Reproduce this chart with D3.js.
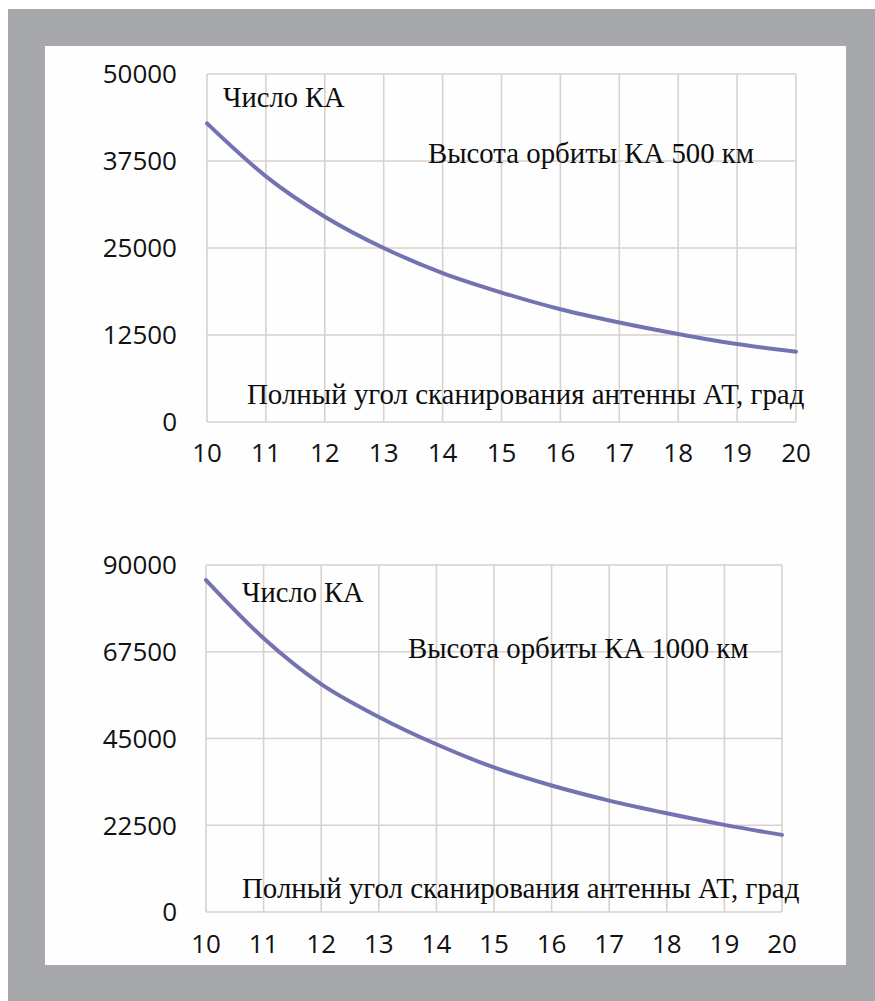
<!DOCTYPE html>
<html>
<head>
<meta charset="utf-8">
<script src="https://cdn.jsdelivr.net/npm/d3@7"></script>
<style>
  html, body { margin: 0; padding: 0; background: #fff; }
  svg { display: block; }
</style>
</head>
<body>
<svg id="chart" width="875" height="1001"></svg>
<script>
// ---- data ----
const angles = [10, 11, 12, 13, 14, 15, 16, 17, 18, 19, 20];
const count500 = [42900, 35300, 29500, 25000, 21400, 18600, 16200, 14300, 12650, 11200, 10100];
const count1000 = [86100, 71000, 59100, 50600, 43500, 37500, 32800, 28900, 25600, 22600, 20000];
const yTicks500 = [0, 12500, 25000, 37500, 50000];
const yTicks1000 = [0, 22500, 45000, 67500, 90000];
const yLabelText = "Число КА";
const xLabelText = "Полный угол сканирования антенны АТ, град";
const title500 = "Высота орбиты КА 500 км";
const title1000 = "Высота орбиты КА 1000 км";

// ---- layout ----
const svg = d3.select("#chart");
svg.append("rect").attr("x", 0).attr("y", 0).attr("width", 875).attr("height", 1001).attr("fill", "#ffffff");
svg.append("rect").attr("x", 8).attr("y", 9).attr("width", 867).attr("height", 992).attr("fill", "#a7a8ab");
svg.append("rect").attr("x", 45).attr("y", 46).attr("width", 801).attr("height", 919).attr("fill", "#fefefe");

const GRID = "#d9d1cd";
const LINE = "#7473b2";
const SERIF = "'Liberation Serif', 'Times New Roman', serif";
const SANS = "'Open Sans', sans-serif";

function drawChart(cfg) {
  const x = d3.scaleLinear().domain([10, 20]).range([cfg.x0, cfg.x1]);
  const y = d3.scaleLinear().domain([0, cfg.ymax]).range([cfg.y0, cfg.y1]);
  const g = svg.append("g");

  // vertical grid
  g.append("g").selectAll("line").data(angles).join("line")
    .attr("x1", d => x(d)).attr("x2", d => x(d))
    .attr("y1", y(0)).attr("y2", y(cfg.ymax))
    .attr("stroke", GRID).attr("stroke-width", 1.6);
  // horizontal grid
  g.append("g").selectAll("line").data(cfg.ticks).join("line")
    .attr("x1", x(10)).attr("x2", x(20))
    .attr("y1", d => y(d)).attr("y2", d => y(d))
    .attr("stroke", GRID).attr("stroke-width", 1.6);

  // y tick labels
  g.append("g").selectAll("text").data(cfg.ticks).join("text")
    .attr("x", 177).attr("y", d => y(d)).attr("dy", "0.36em")
    .attr("text-anchor", "end")
    .attr("font-family", SANS).attr("font-size", 26)
    .attr("fill", "#111")
    .text(d => d);

  // x tick labels
  g.append("g").selectAll("text").data(angles).join("text")
    .attr("x", d => x(d)).attr("y", cfg.xLabY)
    .attr("text-anchor", "middle")
    .attr("font-family", SANS).attr("font-size", 26)
    .attr("fill", "#111")
    .text(d => d);

  // annotations
  g.append("text").attr("x", cfg.kaX).attr("y", cfg.kaY)
    .attr("font-family", SERIF).attr("font-size", 28.5).attr("fill", "#0d0d0d")
    .text(yLabelText);
  g.append("text").attr("x", cfg.titleX).attr("y", cfg.titleY)
    .attr("font-family", SERIF).attr("font-size", 28.8).attr("fill", "#0d0d0d")
    .text(cfg.title);
  g.append("text").attr("x", cfg.axX).attr("y", cfg.axY)
    .attr("font-family", SERIF).attr("font-size", 28.9).attr("fill", "#0d0d0d")
    .text(xLabelText);

  // line
  const line = d3.line()
    .x((d, i) => x(angles[i]))
    .y(d => y(d))
    .curve(d3.curveMonotoneX);
  g.append("path").datum(cfg.values)
    .attr("d", line)
    .attr("fill", "none").attr("stroke", LINE).attr("stroke-width", 4)
    .attr("stroke-linecap", "round").attr("stroke-linejoin", "round");
}

drawChart({
  x0: 207, x1: 796, y0: 422, y1: 74, ymax: 50000,
  ticks: yTicks500, values: count500, xLabY: 462,
  kaX: 223, kaY: 107, title: title500, titleX: 428, titleY: 163,
  axX: 247, axY: 404
});
drawChart({
  x0: 206, x1: 782, y0: 912, y1: 565, ymax: 90000,
  ticks: yTicks1000, values: count1000, xLabY: 953,
  kaX: 242, kaY: 602, title: title1000, titleX: 408, titleY: 658,
  axX: 242, axY: 898
});
</script>
</body>
</html>
